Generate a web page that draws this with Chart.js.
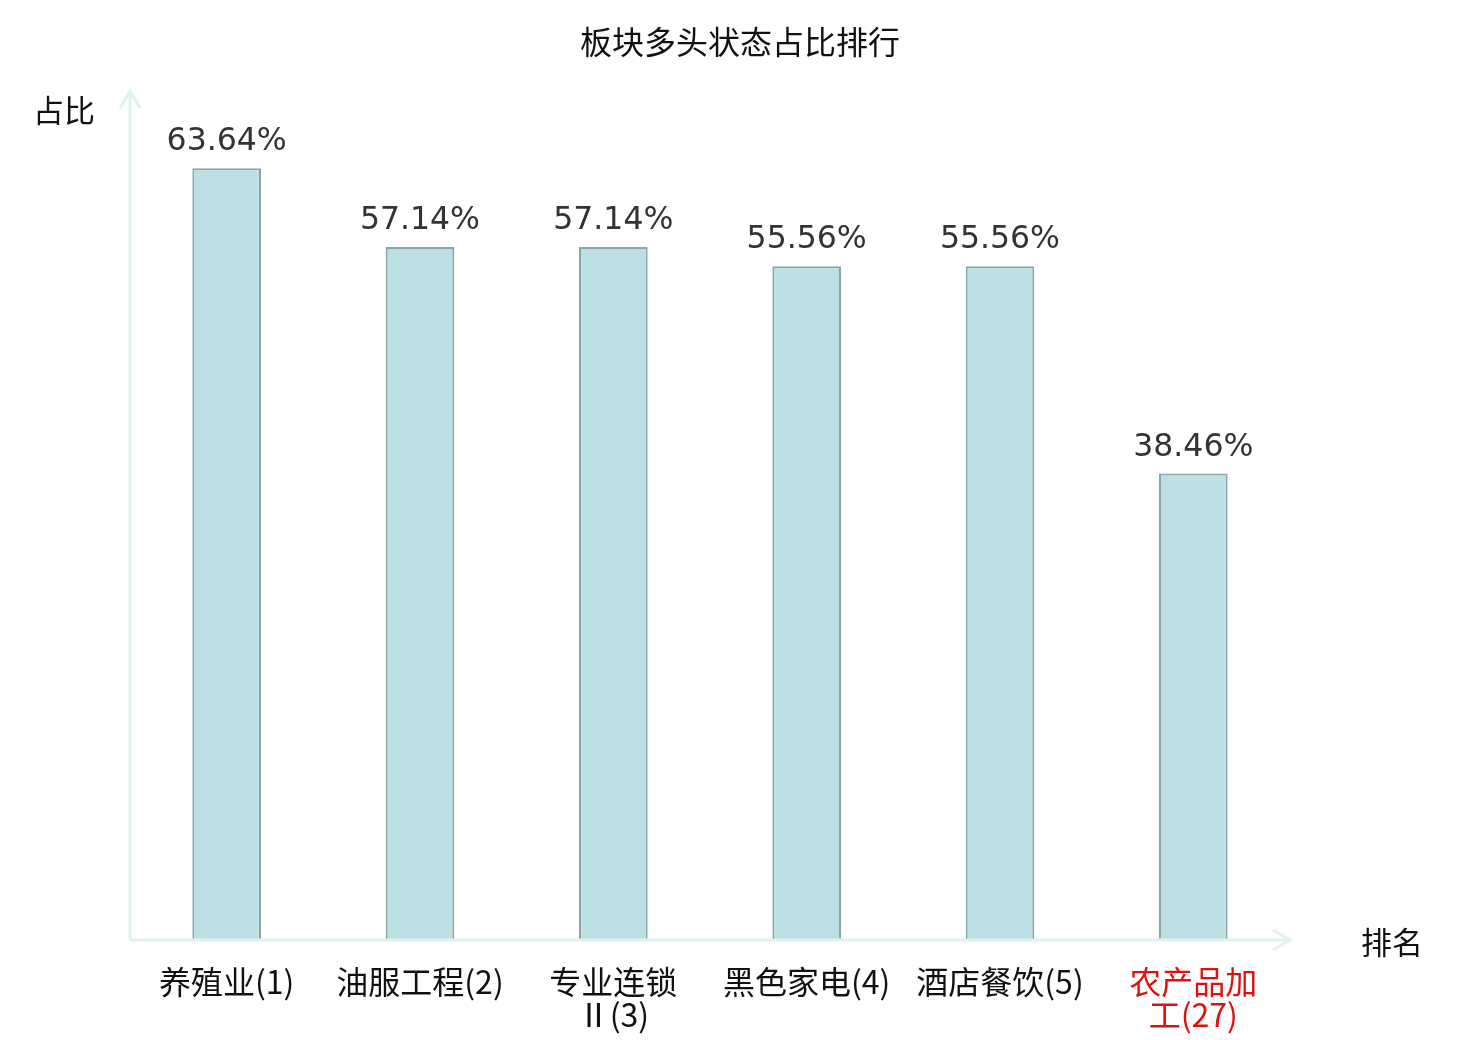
<!DOCTYPE html>
<html>
<head>
<meta charset="utf-8">
<script src="https://cdn.jsdelivr.net/npm/chart.js@4.4.1/dist/chart.umd.min.js"></script>
<style>
  html, body { margin: 0; padding: 0; background: #fff; }
  #wrap { width: 1480px; height: 1040px; }
</style>
</head>
<body>
<div id="wrap"><canvas id="rankChart"></canvas></div>
<script>
// data
const categories = [
  ['养殖业(1)'],
  ['油服工程(2)'],
  ['专业连锁', 'Ⅱ(3)'],
  ['黑色家电(4)'],
  ['酒店餐饮(5)'],
  ['农产品加', '工(27)']
];
const ratios = [63.64, 57.14, 57.14, 55.56, 55.56, 38.46];
const labelColors = ['#111', '#111', '#111', '#111', '#111', '#e01010'];

const titleText = '板块多头状态占比排行';
const yName = '占比';
const xName = '排名';

const cjkFont = '"Noto Sans CJK SC", "DejaVu Sans", sans-serif';
const axisColor = '#dff2ef';

// axes with arrows, labels, title
const decorPlugin = {
  id: 'decor',
  afterDraw(chart) {
    const ctx = chart.ctx;
    const a = chart.chartArea;
    const xs = chart.scales.x;
    const ys = chart.scales.y;
    ctx.save();

    // axis lines
    ctx.strokeStyle = axisColor;
    ctx.lineWidth = 3;
    ctx.beginPath();
    ctx.moveTo(a.left, a.bottom);
    ctx.lineTo(a.left, a.top);
    ctx.moveTo(a.left, a.bottom);
    ctx.lineTo(a.right, a.bottom);
    ctx.stroke();
    // arrow heads
    ctx.beginPath();
    ctx.moveTo(a.left - 10, a.top + 17);
    ctx.lineTo(a.left, a.top);
    ctx.lineTo(a.left + 10, a.top + 17);
    ctx.moveTo(a.right - 17, a.bottom - 10);
    ctx.lineTo(a.right, a.bottom);
    ctx.lineTo(a.right - 17, a.bottom + 10);
    ctx.stroke();

    // title
    ctx.fillStyle = '#111';
    ctx.font = '32px ' + cjkFont;
    ctx.textAlign = 'center';
    ctx.textBaseline = 'middle';
    ctx.fillText(titleText, chart.width / 2, 42);

    // axis names
    ctx.font = '31px ' + cjkFont;
    ctx.textAlign = 'left';
    ctx.fillText(yName, 33, 110);
    ctx.fillText(xName, 1361, 942);

    // category labels
    ctx.font = '32px ' + cjkFont;
    ctx.textAlign = 'center';
    ctx.textBaseline = 'top';
    categories.forEach((lines, i) => {
      const x = xs.getPixelForValue(i);
      ctx.fillStyle = labelColors[i];
      lines.forEach((t, j) => {
        ctx.fillText(t, x, a.bottom + 26 + j * 33);
      });
    });

    // value labels
    ctx.fillStyle = '#333';
    ctx.font = '31.5px "DejaVu Sans", sans-serif';
    ctx.textBaseline = 'alphabetic';
    ratios.forEach((v, i) => {
      ctx.fillText(v.toFixed(2) + '%', xs.getPixelForValue(i), ys.getPixelForValue(v) - 18);
    });
    ctx.restore();
  }
};

const ctx = document.getElementById('rankChart').getContext('2d');
const rankChart = new Chart(ctx, {
  type: 'bar',
  data: {
    labels: categories,
    datasets: [{
      label: yName,
      data: ratios,
      backgroundColor: '#bce0e3',
      borderColor: '#8aa5a6',
      borderWidth: 2,
      borderSkipped: 'bottom',
      barPercentage: 0.355,
      categoryPercentage: 1.0
    }]
  },
  options: {
    responsive: true,
    maintainAspectRatio: false,
    animation: false,
    layout: { padding: { left: 130, right: 190, top: 91, bottom: 100 } },
    plugins: {
      legend: { display: false },
      tooltip: { enabled: false },
      title: { display: false }
    },
    scales: {
      x: { display: false, offset: true },
      y: { display: false, min: 0, max: 70 }
    }
  },
  plugins: [decorPlugin]
});
</script>
</body>
</html>
